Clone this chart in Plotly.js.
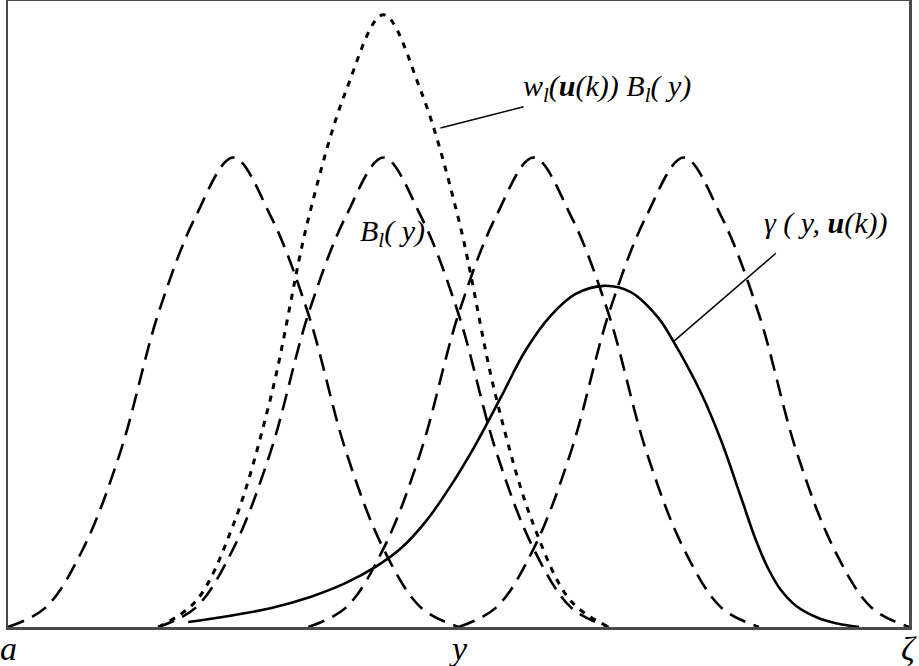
<!DOCTYPE html>
<html>
<head>
<meta charset="utf-8">
<script src="https://cdn.plot.ly/plotly-3.0.1.min.js"></script>
<style>html,body{margin:0;padding:0;background:#fff;}#chart{width:919px;height:666px;}</style>
</head>
<body>
<div id="chart"></div>
<script>
// ---- data (x in knot units: a = 0, ζ = 6; y in normalized height) ----
var bump1X = [0, 0.25, 0.5, 0.75, 1, 1.25, 1.5, 1.75, 2, 2.25, 2.5, 2.75, 3];
var bump2X = [1, 1.25, 1.5, 1.75, 2, 2.25, 2.5, 2.75, 3, 3.25, 3.5, 3.75, 4];
var bump3X = [2, 2.25, 2.5, 2.75, 3, 3.25, 3.5, 3.75, 4, 4.25, 4.5, 4.75, 5];
var bump4X = [3, 3.25, 3.5, 3.75, 4, 4.25, 4.5, 4.75, 5, 5.25, 5.5, 5.75, 6];
var bumpY  = [0, 0.031, 0.125, 0.281, 0.5, 0.656, 0.75, 0.656, 0.5, 0.281, 0.125, 0.031, 0];

var weightedX = [1, 1.25, 1.5, 1.75, 2, 2.25, 2.5, 2.75, 3, 3.25, 3.5, 3.75, 4];
var weightedY = [0, 0.041, 0.163, 0.367, 0.652, 0.856, 0.978, 0.856, 0.652, 0.367, 0.163, 0.041, 0];

var gammaX = [1.200, 1.480, 1.747, 2.013, 2.247, 2.447, 2.613, 2.780, 2.947, 3.113, 3.280, 3.447, 3.613, 3.780,
              3.967, 4.147, 4.327, 4.427, 4.613, 4.747, 4.880, 4.980, 5.067, 5.147, 5.247, 5.380, 5.513, 5.667];
var gammaY = [0.008, 0.018, 0.030, 0.048, 0.070, 0.096, 0.125, 0.168, 0.225, 0.291, 0.366, 0.442, 0.497, 0.532,
              0.545, 0.535, 0.495, 0.458, 0.375, 0.299, 0.208, 0.139, 0.091, 0.059, 0.034, 0.016, 0.006, 0];

var tickVals = [0, 3, 6];
var tickText = ['a', 'y', 'ζ'];

// ---- traces ----
var dashStyle = {color: '#000', width: 2.6, dash: '17px,9px', shape: 'spline'};
function bump(x) {
  return {x: x, y: bumpY, mode: 'lines', line: dashStyle, hoverinfo: 'skip', showlegend: false};
}
var traces = [
  bump(bump1X), bump(bump2X), bump(bump3X), bump(bump4X),
  {x: weightedX, y: weightedY, mode: 'lines', hoverinfo: 'skip', showlegend: false,
   line: {color: '#000', width: 3, dash: '6px,7px', shape: 'spline'}},
  {x: gammaX, y: gammaY, mode: 'lines', hoverinfo: 'skip', showlegend: false,
   line: {color: '#000', width: 2.6, shape: 'spline', smoothing: 1}}
];

var serif = 'Liberation Serif, serif';
var annFont = {family: serif, size: 30, color: '#000', style: 'italic'};

var annotations = [
  {x: 3.987, y: 0.861, xref: 'x', yref: 'y', showarrow: false,
   text: '<i>w<sub>l</sub>(<b>u</b>(k)) B<sub>l</sub>( y)</i>', font: annFont},
  {x: 2.56, y: 0.629, xref: 'x', yref: 'y', showarrow: false,
   text: '<i>B<sub>l</sub>( y)</i>', font: annFont},
  {x: 5.447, y: 0.645, xref: 'x', yref: 'y', showarrow: false,
   text: '<i>γ ( y, <b>u</b>(k))</i>', font: annFont}
];
tickVals.forEach(function (v, i) {
  annotations.push({x: v, y: 0, xref: 'x', yref: 'y', showarrow: false,
    xanchor: 'center', yanchor: 'middle', yshift: -21,
    text: '<i>' + tickText[i] + '</i>',
    font: {family: serif, size: 34, color: '#000', style: 'italic'}});
});

var layout = {
  width: 919, height: 666,
  margin: {l: 8, r: 10, t: 1, b: 39},
  paper_bgcolor: '#fff', plot_bgcolor: '#fff',
  showlegend: false,
  xaxis: {
    range: [0, 6], showgrid: false, zeroline: false,
    showline: true, mirror: true, linecolor: '#4a4a4a', linewidth: 2.5,
    ticks: '', showticklabels: false
  },
  yaxis: {
    range: [0, 1], showgrid: false, zeroline: false,
    showline: true, mirror: true, linecolor: '#4a4a4a', linewidth: 2.5,
    showticklabels: false, ticks: ''
  },
  shapes: [
    {type: 'line', xref: 'x', yref: 'y', x0: 2.88, y0: 0.797, x1: 3.433, y1: 0.831,
     line: {color: '#000', width: 1.5}},
    {type: 'line', xref: 'x', yref: 'y', x0: 4.427, y0: 0.455, x1: 5.113, y1: 0.597,
     line: {color: '#000', width: 1.5}}
  ],
  annotations: annotations
};

Plotly.newPlot('chart', traces, layout, {displayModeBar: false, staticPlot: true});
</script>
</body>
</html>
